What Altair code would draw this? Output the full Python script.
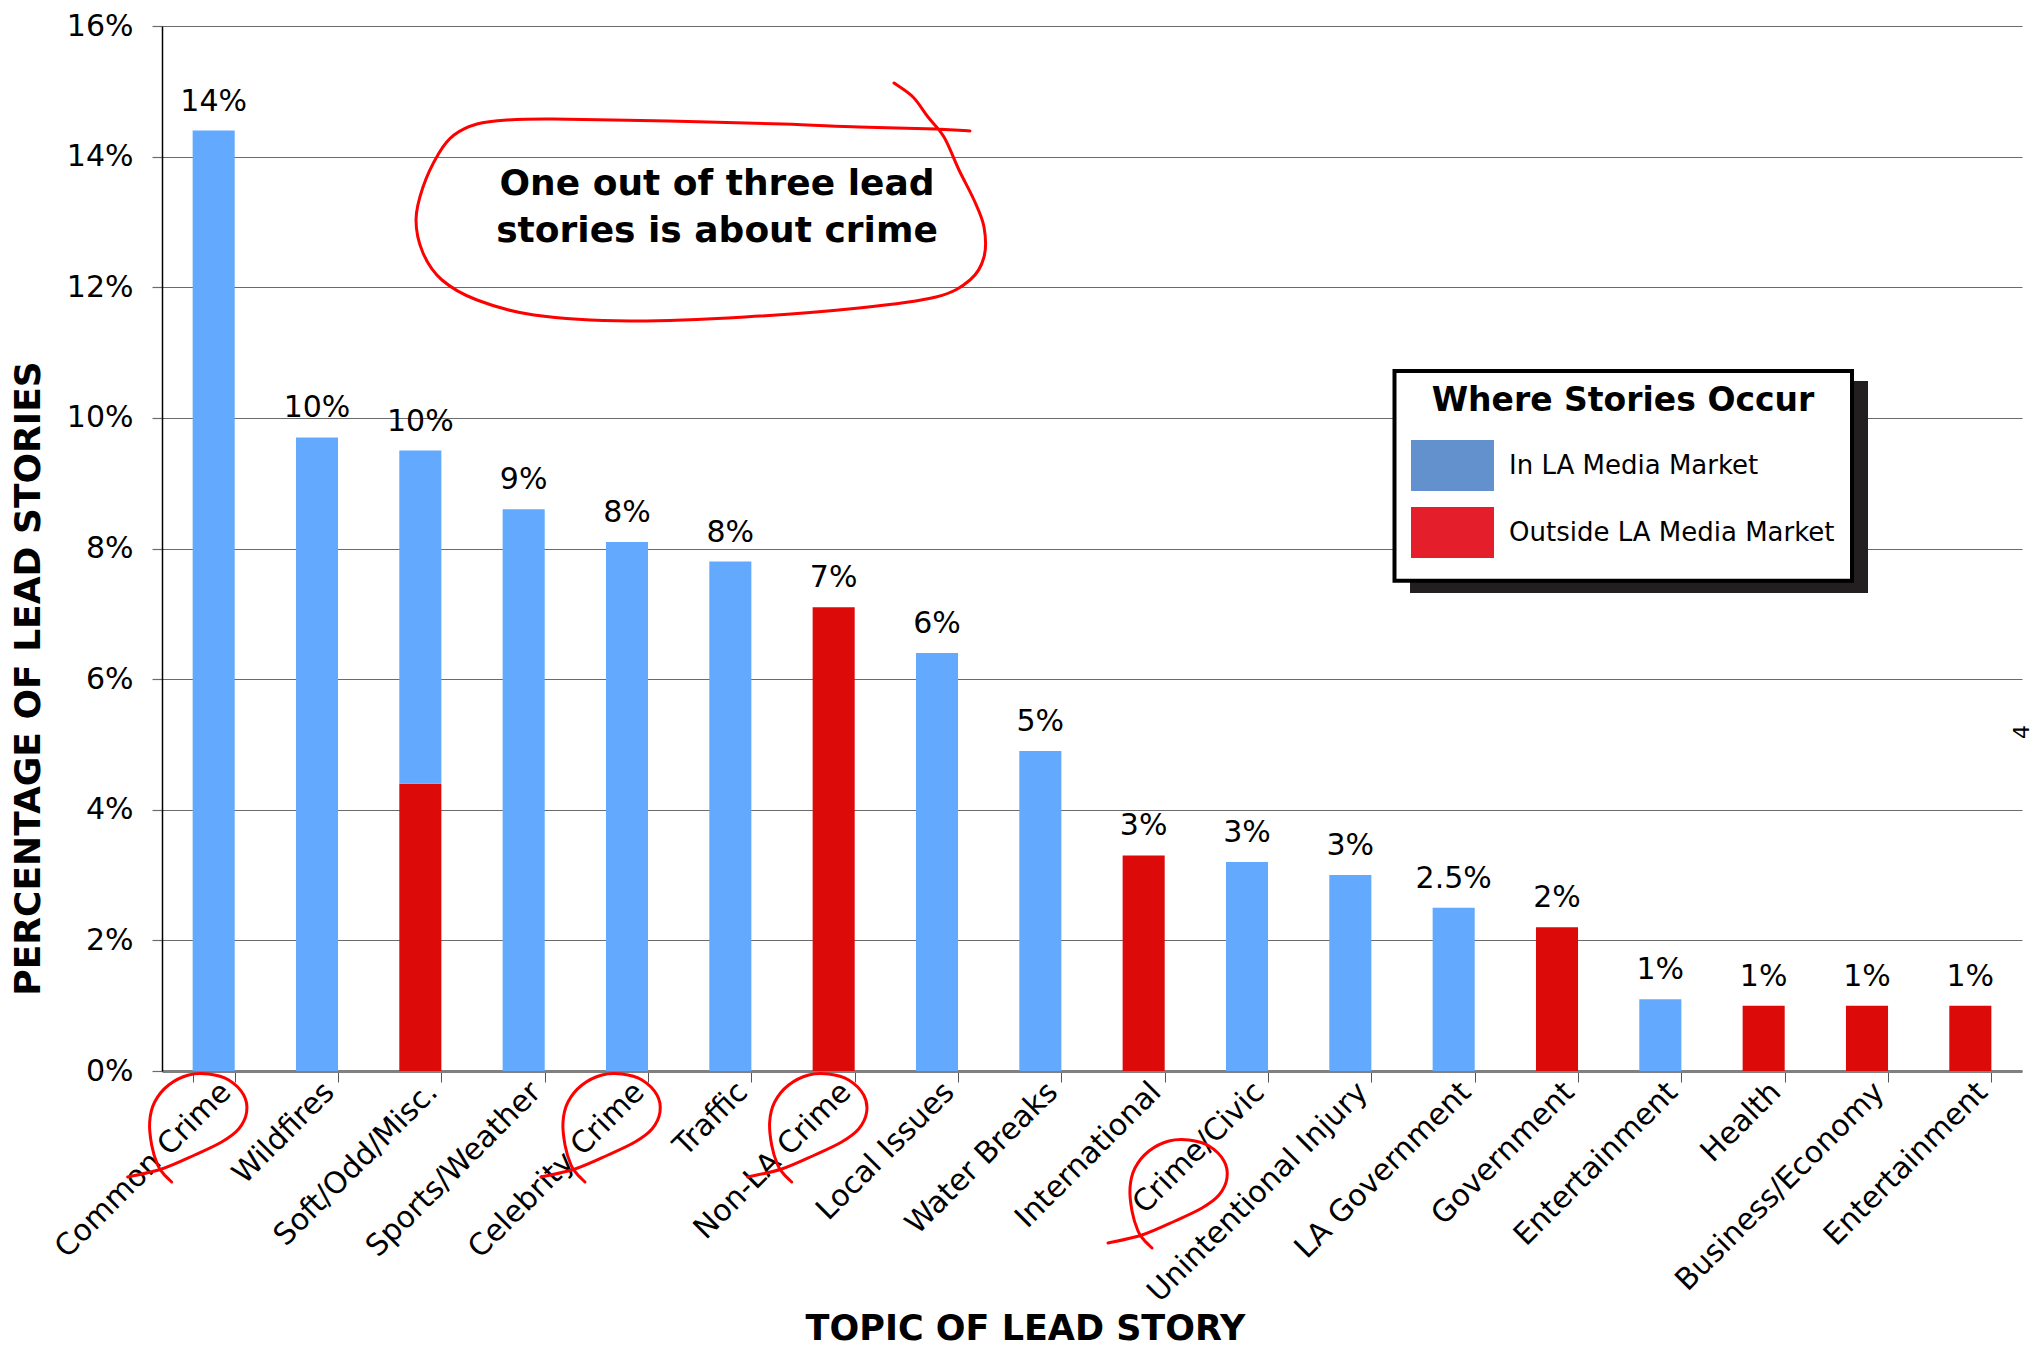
import altair as alt
import pandas as pd

# ---------------- data ----------------
categories = [
    "Common Crime", "Wildfires", "Soft/Odd/Misc.", "Sports/Weather",
    "Celebrity Crime", "Traffic", "Non-LA Crime", "Local Issues",
    "Water Breaks", "International", "Crime/Civic", "Unintentional Injury",
    "LA Government", "Government", "Entertainment", "Health",
    "Business/Economy", "Entertainment ",
]
in_la = [14.4, 9.7, 5.1, 8.6, 8.1, 7.8, 0, 6.4, 4.9, 0, 3.2, 3.0, 2.5, 0, 1.1, 0, 0, 0]
outside_la = [0, 0, 4.4, 0, 0, 0, 7.1, 0, 0, 3.3, 0, 0, 0, 2.2, 0, 1.0, 1.0, 1.0]
value_labels = ["14%", "10%", "10%", "9%", "8%", "8%", "7%", "6%", "5%", "3%",
                "3%", "3%", "2.5%", "2%", "1%", "1%", "1%", "1%"]
series = ["In LA Media Market", "Outside LA Media Market"]
bar_colors = ["#63A9FE", "#DC0A08"]
legend_colors = ["#6391CE", "#E41E2B"]
y_ticks = [0, 2, 4, 6, 8, 10, 12, 14, 16]
crime_loop_topics = ["Common Crime", "Celebrity Crime", "Non-LA Crime"]
crime_loop_topic_shifted = ["Crime/Civic"]
callout_lines = ["One out of three lead", "stories is about crime"]
page_number = "4"

# ---------------- hand-drawn annotation shapes (pixel outlines) ----------------
loop_outline = [(-50, 109), (-58, 101), (-64, 92), (-70, 72), (-72, 49), (-67, 29),
                (-53, 12), (-33, 2), (-13, 1), (7, 7), (22, 22), (25, 39), (17, 56),
                (0, 69), (-27, 82), (-60, 96), (-94, 104)]
callout_outline = [(253, -87), (219, -89), (142, -91), (66, -94), (-49, -97),
                   (-164, -99), (-210, -98), (-240, -94), (-263, -83), (-278, -65),
                   (-294, -31), (-301, 2), (-294, 35), (-275, 62), (-240, 82),
                   (-183, 97), (-87, 103), (28, 99), (142, 90), (219, 79), (253, 62),
                   (267, 39), (267, 9), (257, -18), (242, -48), (227, -81),
                   (211, -101), (196, -121), (177, -135)]


def smooth_path(pts):
    d = f"M{pts[0][0]},{pts[0][1]}"
    n = len(pts)
    for i in range(n - 1):
        p0 = pts[i - 1] if i > 0 else pts[i]
        p1, p2 = pts[i], pts[i + 1]
        p3 = pts[i + 2] if i + 2 < n else p2
        c1 = (p1[0] + (p2[0] - p0[0]) / 6, p1[1] + (p2[1] - p0[1]) / 6)
        c2 = (p2[0] - (p3[0] - p1[0]) / 6, p2[1] - (p3[1] - p1[1]) / 6)
        d += (f" C{c1[0]:.1f},{c1[1]:.1f} {c2[0]:.1f},{c2[1]:.1f} "
              f"{p2[0]},{p2[1]}")
    return d


# ---------------- tables ----------------
rows = []
for cat, a, b in zip(categories, in_la, outside_la):
    if b > 0:
        rows.append({"topic": cat, "series": series[1], "value": b, "stack": 0})
    if a > 0:
        rows.append({"topic": cat, "series": series[0], "value": a, "stack": 1})
bars_df = pd.DataFrame(rows)

totals_df = pd.DataFrame({
    "topic": categories,
    "total": [a + b for a, b in zip(in_la, outside_la)],
    "label": value_labels,
})
loops_df = pd.DataFrame({"topic": crime_loop_topics, "base": [0] * len(crime_loop_topics)})
loops2_df = pd.DataFrame({"topic": crime_loop_topic_shifted, "base": [0]})
one_df = pd.DataFrame({"k": [0]})

W, H = 1860, 1045
FONT = "DejaVu Sans"

x_enc = alt.X(
    "topic:N", sort=categories,
    scale=alt.Scale(domain=categories, paddingInner=0.593, paddingOuter=0.2965),
    axis=alt.Axis(
        labelAngle=315, labelAlign="right", labelBaseline="middle",
        labelExpr="trim(datum.label)", labelFont=FONT, labelFontSize=30,
        labelColor="#000", labelPadding=5, labelOffset=12, labelLimit=500,
        labelOverlap=False,
        tickBand="extent", tickColor="#555555", tickSize=11, tickWidth=1,
        domainColor="#808080", domainWidth=3, grid=False,
        title="TOPIC OF LEAD STORY", titleFont=FONT, titleFontSize=35,
        titleFontWeight="bold", titleColor="#000", titleX=863, titleY=268,
        titleAlign="center", titleBaseline="alphabetic",
    ),
)
y_scale = alt.Scale(domain=[0, 16], nice=False)
y_axis = alt.Axis(
    values=y_ticks, labelExpr="datum.value + '%'", labelFont=FONT,
    labelFontSize=30, labelColor="#000", labelPadding=19,
    tickColor="#6b6b6b", tickSize=10, tickWidth=1.2,
    domainColor="#000", domainWidth=1.5,
    grid=True, gridColor="#6b6b6b", gridWidth=1.2,
    title="PERCENTAGE OF LEAD STORIES", titleFont=FONT, titleFontSize=36,
    titleFontWeight="bold", titleColor="#000", titleX=-134, titleY=652,
    titleAlign="center", titleBaseline="middle", titleAngle=270,
)

# legend frame: drop shadow + white box with black border
shadow = alt.Chart(one_df).mark_rect(color="#231F20").encode(
    x=alt.value(1248), x2=alt.value(1706), y=alt.value(355), y2=alt.value(567)
)
frame = alt.Chart(one_df).mark_rect(
    fill="#FFFFFF", stroke="#000000", strokeWidth=4
).encode(
    x=alt.value(1232.5), x2=alt.value(1690), y=alt.value(345), y2=alt.value(554.7)
)

bars = alt.Chart(bars_df).mark_bar().encode(
    x=x_enc,
    y=alt.Y("value:Q", stack="zero", scale=y_scale, axis=y_axis),
    color=alt.Color(
        "series:N", scale=alt.Scale(domain=series, range=bar_colors), legend=None
    ),
    order=alt.Order("stack:Q"),
)

# invisible twin of the bars that carries the legend (legend swatches use other shades)
legend_layer = alt.Chart(bars_df).mark_bar(opacity=0).encode(
    x=alt.X("topic:N", sort=categories),
    y=alt.Y("value:Q", stack="zero"),
    color=alt.Color(
        "series:N",
        scale=alt.Scale(domain=series, range=legend_colors),
        legend=alt.Legend(
            orient="none", legendX=1235, legendY=345,
            title="Where Stories Occur", titleFont=FONT, titleFontSize=33,
            titleFontWeight="bold", titleColor="#000", titleAnchor="middle",
            titlePadding=6, titleLimit=600,
            labelFont=FONT, labelFontSize=26, labelColor="#000",
            labelOffset=15, labelLimit=600,
            symbolType="M-1,-0.614H1V0.614H-1Z", symbolSize=6889,
            symbolStrokeWidth=0, symbolOpacity=1, rowPadding=-20,
            padding=14,
        ),
    ),
    order=alt.Order("stack:Q"),
)

value_text = alt.Chart(totals_df).mark_text(
    font=FONT, fontSize=30, baseline="alphabetic", dy=-20, color="#000"
).encode(x=alt.X("topic:N", sort=categories), y=alt.Y("total:Q"), text="label:N")

loop_path = smooth_path(loop_outline)
loops = alt.Chart(loops_df).mark_point(
    shape=loop_path, size=4, filled=False, color="#FF0000", strokeWidth=3,
    opacity=1, strokeJoin="round", strokeCap="round", xOffset=8, yOffset=2
).encode(x=alt.X("topic:N", sort=categories), y=alt.Y("base:Q"))
loops2 = alt.Chart(loops2_df).mark_point(
    shape=loop_path, size=4, filled=False, color="#FF0000", strokeWidth=3,
    opacity=1, strokeJoin="round", strokeCap="round", xOffset=-45, yOffset=68
).encode(x=alt.X("topic:N", sort=categories), y=alt.Y("base:Q"))

callout_ring = alt.Chart(one_df).mark_point(
    shape=smooth_path(callout_outline), size=4, filled=False, color="#FF0000",
    strokeWidth=3, opacity=1, strokeJoin="round", strokeCap="round"
).encode(x=alt.value(555), y=alt.value(192))

callout_text = alt.Chart(one_df).mark_text(
    font=FONT, fontSize=36, fontWeight="bold", align="center",
    baseline="alphabetic", lineHeight=47, color="#000"
).encode(x=alt.value(555), y=alt.value(169), text=alt.value(callout_lines))

page_text = alt.Chart(one_df).mark_text(
    font=FONT, fontSize=22, angle=270, align="center", baseline="middle",
    color="#000"
).encode(x=alt.value(1860), y=alt.value(706), text=alt.value(page_number))

chart = alt.layer(
    shadow, frame, legend_layer, bars, value_text, loops, loops2, callout_ring,
    callout_text, page_text
).resolve_scale(color="independent").properties(
    width=W, height=H,
    autosize=alt.AutoSizeParams(type="none"),
    padding={"left": 154, "top": 18, "right": 13, "bottom": 277},
    background="#FFFFFF",
).configure_view(stroke=None)

chart.save("out.html", embed_options={"renderer": "svg", "actions": False})
